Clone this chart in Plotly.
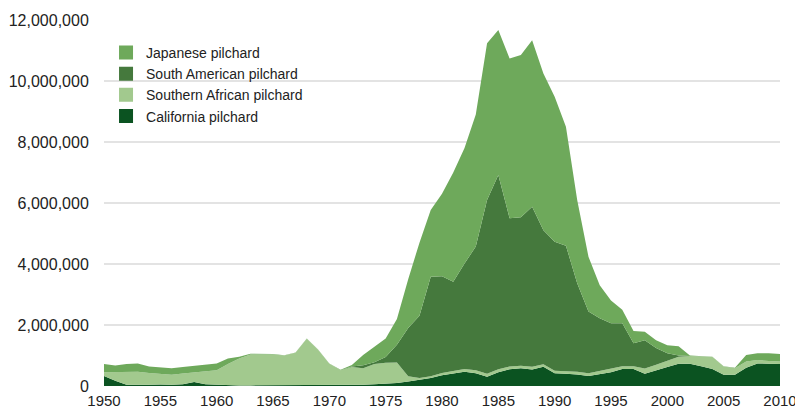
import plotly.graph_objects as go

# pilchard catches by stock, tonnes, 1950-2010
years = list(range(1950, 2011))

california = [
    330000, 170000, 40000, 30000, 40000, 50000, 40000, 60000, 130000, 60000,
    40000, 30000, 20000, 20000, 20000, 20000, 20000, 20000, 20000, 20000,
    20000, 20000, 30000, 40000, 60000, 80000, 100000, 150000, 200000, 260000,
    350000, 400000, 470000, 420000, 300000, 450000, 550000, 580000, 540000, 630000,
    420000, 400000, 380000, 330000, 380000, 450000, 560000, 560000, 400000, 500000,
    620000, 730000, 730000, 650000, 560000, 370000, 370000, 600000, 740000, 730000, 720000,
]

southern_african = [
    120000, 280000, 420000, 440000, 390000, 340000, 330000, 350000, 310000, 420000,
    480000, 690000, 880000, 1010000, 1020000, 1015000, 980000, 1070000, 1530000, 1170000,
    710000, 495000, 590000, 540000, 660000, 680000, 670000, 170000, 60000, 60000,
    80000, 90000, 90000, 100000, 100000, 100000, 90000, 80000, 90000, 80000,
    80000, 80000, 90000, 90000, 120000, 110000, 90000, 90000, 170000, 200000,
    200000, 230000, 250000, 320000, 390000, 270000, 210000, 200000, 110000, 90000, 80000,
]

south_american = [
    0, 0, 0, 0, 0, 0, 0, 0, 0, 0,
    0, 0, 0, 0, 0, 0, 0, 0, 0, 0,
    0, 0, 20000, 100000, 60000, 190000, 580000, 1580000, 2040000, 3260000,
    3170000, 2930000, 3460000, 4050000, 5700000, 6370000, 4860000, 4870000, 5250000, 4400000,
    4230000, 4120000, 2900000, 2020000, 1720000, 1500000, 1410000, 750000, 930000, 550000,
    250000, 40000, 0, 0, 0, 0, 0, 0, 0, 0, 0,
]

japanese = [
    270000, 220000, 260000, 270000, 210000, 210000, 210000, 210000, 220000, 220000,
    220000, 180000, 60000, 30000, 20000, 15000, 10000, 10000, 10000, 10000,
    10000, 15000, 50000, 340000, 510000, 610000, 850000, 1600000, 2400000, 2190000,
    2700000, 3580000, 3780000, 4330000, 5140000, 4750000, 5240000, 5320000, 5460000, 5140000,
    4750000, 3900000, 2730000, 1800000, 1080000, 740000, 440000, 400000, 280000, 250000,
    270000, 300000, 20000, 10000, 10000, 10000, 20000, 220000, 220000, 250000, 250000,
]

series = [
    ("California pilchard", california, "#0b5321"),
    ("Southern African pilchard", southern_african, "#a2c98e"),
    ("South American pilchard", south_american, "#45793d"),
    ("Japanese pilchard", japanese, "#6ea95b"),
]

fig = go.Figure()

for name, vals, color in series:
    fig.add_trace(go.Scatter(
        x=years, y=vals, name=name, stackgroup="catch",
        mode="lines", line=dict(width=0, color=color),
        fillcolor=color, showlegend=False, hoverinfo="skip",
    ))

# square swatches for the legend
for name, vals, color in series:
    fig.add_trace(go.Scatter(
        x=[None], y=[None], name=name, mode="markers",
        marker=dict(symbol="square", size=14, color=color),
    ))

# the page body has an 8px margin, so the figure is 8px smaller than the window
fig.update_layout(
    width=795, height=404,
    margin=dict(l=96, r=23, t=12, b=26),
    paper_bgcolor="white", plot_bgcolor="white",
    font=dict(family="Liberation Sans, Arial, sans-serif", size=16, color="#222"),
    legend=dict(
        x=0.003, y=0.954, xanchor="left", yanchor="top",
        traceorder="reversed", bgcolor="rgba(0,0,0,0)",
        font=dict(size=14, color="#222"),
    ),
)
fig.update_xaxes(
    range=[1950, 2010], tickvals=list(range(1950, 2011, 5)),
    tickfont=dict(size=15),
    showgrid=False, zeroline=False, showline=False, automargin=False,
    ticks="outside", ticklen=1, tickcolor="rgba(0,0,0,0)",
)
fig.update_yaxes(
    range=[0, 12000000], dtick=2000000, tickformat=",d",
    showgrid=True, gridcolor="#e3e3e3", gridwidth=1.5,
    zeroline=False, showline=False, automargin=False,
    ticks="outside", ticklen=11, tickcolor="rgba(0,0,0,0)",
)

fig.write_html("out.html")
